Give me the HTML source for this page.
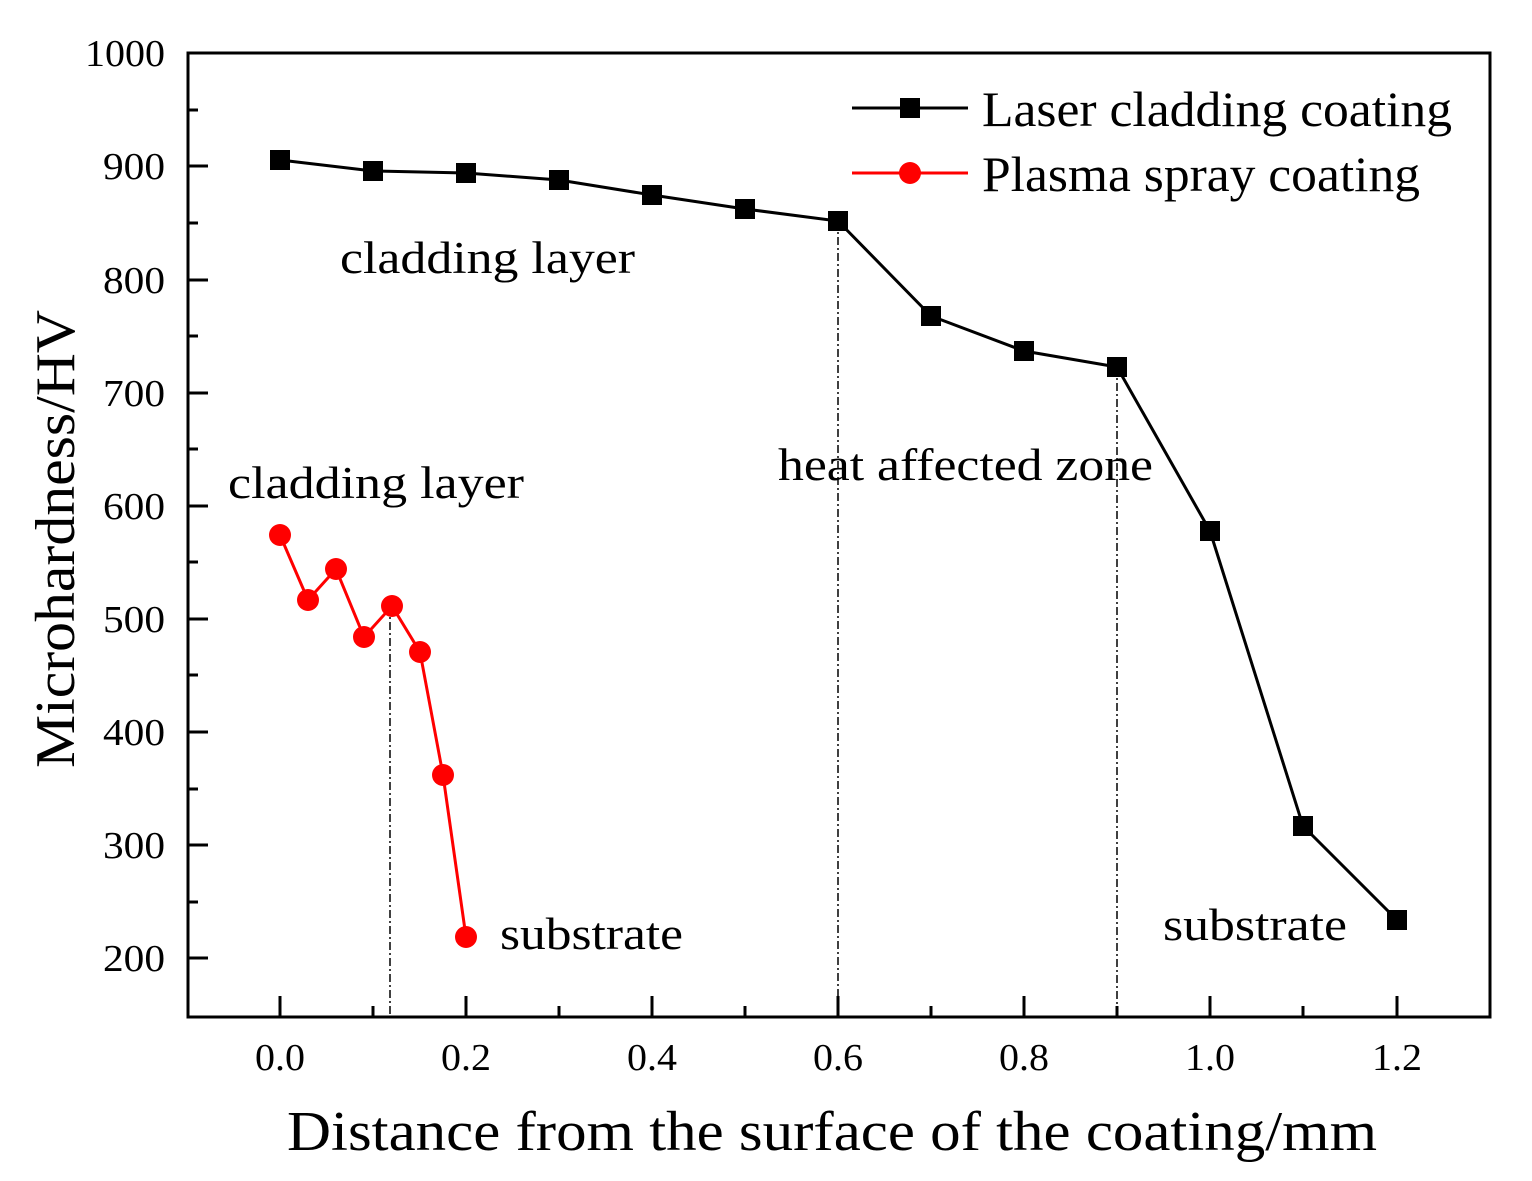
<!DOCTYPE html>
<html><head><meta charset="utf-8"><style>body{margin:0;background:#fff}svg{display:block}</style></head><body>
<svg width="1532" height="1181" xmlns="http://www.w3.org/2000/svg" font-family="Liberation Serif, serif">
<rect width="1532" height="1181" fill="#fff"/>
<g stroke="#000" stroke-width="3" fill="none">
<rect x="188" y="53" width="1302" height="964"/>
</g>
<g stroke="#000" stroke-width="3">
<line x1="188" y1="53" x2="208" y2="53"/><line x1="188" y1="166" x2="208" y2="166"/><line x1="188" y1="280" x2="208" y2="280"/><line x1="188" y1="393" x2="208" y2="393"/><line x1="188" y1="506" x2="208" y2="506"/><line x1="188" y1="619" x2="208" y2="619"/><line x1="188" y1="732" x2="208" y2="732"/><line x1="188" y1="845" x2="208" y2="845"/><line x1="188" y1="958" x2="208" y2="958"/>
<line x1="188" y1="110" x2="198" y2="110"/><line x1="188" y1="223" x2="198" y2="223"/><line x1="188" y1="336" x2="198" y2="336"/><line x1="188" y1="449" x2="198" y2="449"/><line x1="188" y1="562" x2="198" y2="562"/><line x1="188" y1="675" x2="198" y2="675"/><line x1="188" y1="789" x2="198" y2="789"/><line x1="188" y1="902" x2="198" y2="902"/>
<line x1="280" y1="1017" x2="280" y2="996"/><line x1="466" y1="1017" x2="466" y2="996"/><line x1="652" y1="1017" x2="652" y2="996"/><line x1="838" y1="1017" x2="838" y2="996"/><line x1="1024" y1="1017" x2="1024" y2="996"/><line x1="1210" y1="1017" x2="1210" y2="996"/><line x1="1397" y1="1017" x2="1397" y2="996"/>
<line x1="373" y1="1017" x2="373" y2="1006"/><line x1="559" y1="1017" x2="559" y2="1006"/><line x1="745" y1="1017" x2="745" y2="1006"/><line x1="931" y1="1017" x2="931" y2="1006"/><line x1="1117" y1="1017" x2="1117" y2="1006"/><line x1="1303" y1="1017" x2="1303" y2="1006"/>
</g>
<g font-size="38" fill="#000" lengthAdjust="spacingAndGlyphs">
<text x="85" y="66" textLength="80" lengthAdjust="spacingAndGlyphs">1000</text>
<text x="103" y="179" textLength="62" lengthAdjust="spacingAndGlyphs">900</text><text x="103" y="293" textLength="62" lengthAdjust="spacingAndGlyphs">800</text><text x="103" y="406" textLength="62" lengthAdjust="spacingAndGlyphs">700</text><text x="103" y="519" textLength="62" lengthAdjust="spacingAndGlyphs">600</text><text x="103" y="632" textLength="62" lengthAdjust="spacingAndGlyphs">500</text><text x="103" y="745" textLength="62" lengthAdjust="spacingAndGlyphs">400</text><text x="103" y="858" textLength="62" lengthAdjust="spacingAndGlyphs">300</text><text x="103" y="971" textLength="62" lengthAdjust="spacingAndGlyphs">200</text>
</g>
<g font-size="38" fill="#000">
<text x="255" y="1070" textLength="50" lengthAdjust="spacingAndGlyphs">0.0</text><text x="441" y="1070" textLength="50" lengthAdjust="spacingAndGlyphs">0.2</text><text x="627" y="1070" textLength="50" lengthAdjust="spacingAndGlyphs">0.4</text><text x="813" y="1070" textLength="50" lengthAdjust="spacingAndGlyphs">0.6</text><text x="999" y="1070" textLength="50" lengthAdjust="spacingAndGlyphs">0.8</text><text x="1185" y="1070" textLength="50" lengthAdjust="spacingAndGlyphs">1.0</text><text x="1372" y="1070" textLength="50" lengthAdjust="spacingAndGlyphs">1.2</text>
</g>
<text x="287" y="1150" font-size="56" textLength="1090" lengthAdjust="spacingAndGlyphs">Distance from the surface of the coating/mm</text>
<text transform="translate(74,768) rotate(-90)" font-size="56" textLength="458" lengthAdjust="spacingAndGlyphs">Microhardness/HV</text>
<g stroke="#000" stroke-width="1.5" stroke-dasharray="8,3,2,3">
<line x1="390" y1="606" x2="390" y2="1017"/><line x1="838" y1="221" x2="838" y2="1017"/><line x1="1117" y1="367" x2="1117" y2="1017"/>
</g>
<polyline fill="none" stroke="#000" stroke-width="3" points="280,160 373,171 466,173 559,180 652,195 745,209 838,221 931,316 1024,351 1117,367 1210,531 1303,826 1397,920"/>
<g fill="#000">
<rect x="270" y="150" width="20" height="20"/><rect x="363" y="161" width="20" height="20"/><rect x="456" y="163" width="20" height="20"/><rect x="549" y="170" width="20" height="20"/><rect x="642" y="185" width="20" height="20"/><rect x="735" y="199" width="20" height="20"/><rect x="828" y="211" width="20" height="20"/><rect x="921" y="306" width="20" height="20"/><rect x="1014" y="341" width="20" height="20"/><rect x="1107" y="357" width="20" height="20"/><rect x="1200" y="521" width="20" height="20"/><rect x="1293" y="816" width="20" height="20"/><rect x="1387" y="910" width="20" height="20"/>
</g>
<polyline fill="none" stroke="#f00" stroke-width="3" points="280,535 308,600 336,569 364,637 392,606 420,652 443,775 466,937"/>
<g fill="#f00">
<circle cx="280" cy="535" r="11"/><circle cx="308" cy="600" r="11"/><circle cx="336" cy="569" r="11"/><circle cx="364" cy="637" r="11"/><circle cx="392" cy="606" r="11"/><circle cx="420" cy="652" r="11"/><circle cx="443" cy="775" r="11"/><circle cx="466" cy="937" r="11"/>
</g>
<line x1="852" y1="108" x2="968" y2="108" stroke="#000" stroke-width="3"/>
<rect x="900" y="98" width="20" height="20" fill="#000"/>
<line x1="852" y1="173" x2="968" y2="173" stroke="#f00" stroke-width="3"/>
<circle cx="910" cy="173" r="11" fill="#f00"/>
<g font-size="50" fill="#000">
<text x="982" y="126" textLength="470" lengthAdjust="spacingAndGlyphs">Laser cladding coating</text>
<text x="982" y="191" textLength="438" lengthAdjust="spacingAndGlyphs">Plasma spray coating</text>
</g>
<g font-size="45" fill="#000">
<text x="340" y="273" textLength="295" lengthAdjust="spacingAndGlyphs">cladding layer</text>
<text x="228" y="498" textLength="296" lengthAdjust="spacingAndGlyphs">cladding layer</text>
<text x="778" y="480" textLength="375" lengthAdjust="spacingAndGlyphs">heat affected zone</text>
<text x="500" y="949" textLength="183" lengthAdjust="spacingAndGlyphs">substrate</text>
<text x="1163" y="940" textLength="184" lengthAdjust="spacingAndGlyphs">substrate</text>
</g>
</svg>
</body></html>
